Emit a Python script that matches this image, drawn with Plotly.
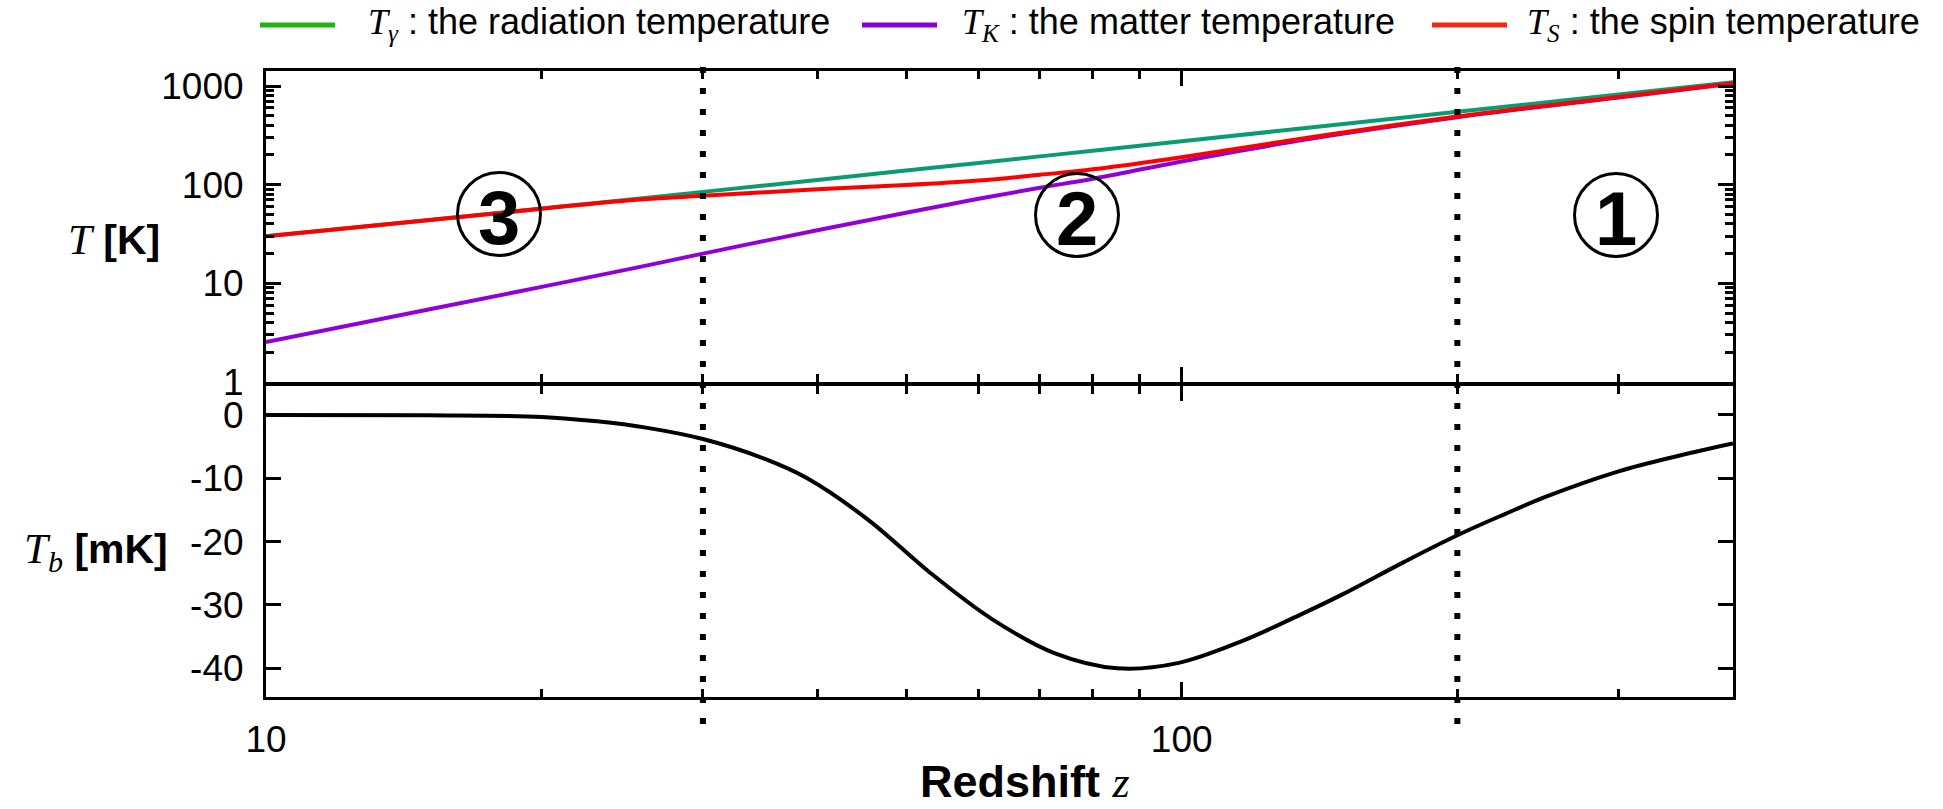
import plotly.graph_objects as go

# ---- data -------------------------------------------------------------
# redshift samples for the temperature curves
z_T = [10, 15, 20, 25, 30, 40, 50, 60, 70, 80, 100, 135, 200, 300, 400]
T_gamma = [30, 43.6, 57.2, 70.9, 84.5, 111.7, 139, 166.2, 193.5, 220.7, 275.2, 370.6, 547.7, 820.2, 1092.7]
T_K = [2.54, 5.4, 9.2, 14, 20, 34.5, 52, 72, 93, 115, 172, 282, 482, 765, 1062]
T_S = [30, 43.6, 57, 69.5, 77, 90, 99, 110, 126, 143, 190, 292, 490, 772, 1065]

# redshift samples for the brightness temperature (mK)
z_b = [10, 15, 20, 23, 26, 30, 35, 39, 45.5, 53, 62, 72.6, 85, 99, 116, 135, 150,
       175, 200, 225, 250, 300, 350, 400]
T_b = [0, -0.05, -0.3, -1.0, -2.0, -3.8, -6.9, -10.0, -16.6, -24.8, -32.2, -37.6, -40.0,
       -39.2, -35.8, -31.5, -28.3, -23.2, -19.0, -15.7, -12.9, -8.9, -6.4, -4.5]

# epoch boundaries
z_bounds = [30, 200]

# tick labels
x_major = [10, 100]
x_major_text = ["10", "100"]
x_minor = [20, 30, 40, 50, 60, 70, 80, 90, 200, 300]
yT_major = [1, 10, 100, 1000]
yT_major_text = ["1", "10", "100", "1000"]
yT_minor = [2, 3, 4, 5, 6, 7, 8, 9, 20, 30, 40, 50, 60, 70, 80, 90,
            200, 300, 400, 500, 600, 700, 800, 900]
yb_major = [0, -10, -20, -30, -40]
yb_major_text = ["0", "-10", "-20", "-30", "-40"]

# ---- layout geometry ---------------------------------------------------
W, H = 1943, 809
ML, MR, MT, MB = 266, 210, 71, 112
PW = W - ML - MR
PH = H - MT - MB


def px_x(px):
    return (px - ML) / PW


def px_y(py):
    return (H - MB - py) / PH


SANS = "Liberation Sans"
SERIF = "Liberation Serif"

fig = go.Figure()

fig.add_trace(go.Scatter(x=z_T, y=T_gamma, mode="lines", xaxis="x", yaxis="y",
                         line=dict(color="#0a9b72", width=4, shape="spline"),
                         name="T_gamma"))
fig.add_trace(go.Scatter(x=z_T, y=T_K, mode="lines", xaxis="x", yaxis="y",
                         line=dict(color="#9100d6", width=4, shape="spline"),
                         name="T_K"))
fig.add_trace(go.Scatter(x=z_T, y=T_S, mode="lines", xaxis="x", yaxis="y",
                         line=dict(color="#ff0000", width=4, shape="spline"),
                         name="T_S"))
fig.add_trace(go.Scatter(x=z_b, y=T_b, mode="lines", xaxis="x2", yaxis="y2",
                         line=dict(color="black", width=4, shape="spline"),
                         name="T_b"))

axis_common = dict(showline=True, linewidth=3, linecolor="black", mirror="ticks",
                   ticks="inside", tickwidth=2.5, tickcolor="black",
                   showgrid=False, zeroline=False,
                   tickfont=dict(family=SANS, size=37, color="black"))

log_x = dict(type="log", range=[1, 2.60206], tickmode="array",
             tickvals=x_major, ticktext=x_major_text, ticklen=15,
             minor=dict(tickmode="array", tickvals=x_minor, ticks="inside",
                        ticklen=8, tickwidth=2.5, tickcolor="black", showgrid=False))

split_top = px_y(382)
split_bot = px_y(386)

fig.update_layout(
    width=W, height=H,
    margin=dict(l=ML, r=MR, t=MT, b=MB),
    paper_bgcolor="white", plot_bgcolor="white",
    showlegend=False,
    xaxis=dict(**axis_common, **log_x, anchor="y", domain=[0, 1],
               showticklabels=False, matches="x2"),
    xaxis2=dict(**axis_common, **log_x, anchor="y2", domain=[0, 1],
                ticklabelstandoff=8),
    yaxis=dict(**axis_common, type="log", range=[0, 3.152], domain=[split_top, 1],
               anchor="x", tickmode="array", tickvals=yT_major, ticktext=yT_major_text,
               ticklen=15, ticklabelstandoff=12,
               minor=dict(tickmode="array", tickvals=yT_minor, ticks="inside",
                          ticklen=8, tickwidth=2.5, tickcolor="black", showgrid=False)),
    yaxis2=dict(**axis_common, range=[-44.55, 4.58], domain=[0, split_bot],
                anchor="x2", tickmode="array", tickvals=yb_major,
                ticktext=yb_major_text, ticklen=15, ticklabelstandoff=12),
)

shapes = []
# dotted boundaries between the epochs
for zb in z_bounds:
    shapes.append(dict(type="line", xref="x2", yref="paper", x0=zb, x1=zb,
                       y0=px_y(724), y1=px_y(67),
                       line=dict(color="black", width=6, dash="6px,15px")))

# circled epoch markers
R = 41.5
epoch_marks = [("3", 499, 214), ("2", 1077, 215), ("1", 1616, 215)]
annotations = []
for label, cx, cy in epoch_marks:
    shapes.append(dict(type="circle", xref="paper", yref="paper",
                       x0=px_x(cx - R), x1=px_x(cx + R),
                       y0=px_y(cy + R), y1=px_y(cy - R),
                       line=dict(color="black", width=3)))
    annotations.append(dict(text=f"<b>{label}</b>", xref="paper", yref="paper",
                            x=px_x(cx), y=px_y(cy + 3), xanchor="center", yanchor="middle",
                            showarrow=False,
                            font=dict(family=SANS, size=76, color="black")))

# legend drawn along the top edge
legend_items = [
    ("#1fb40f", 260, 335, 366, "γ", "the radiation temperature"),
    ("#8a00d0", 862, 937, 960, "K", "the matter temperature"),
    ("#ee2a15", 1432, 1507, 1525, "S", "the spin temperature"),
]
for color, lx0, lx1, tx, sub, desc in legend_items:
    shapes.append(dict(type="line", xref="paper", yref="paper",
                       x0=px_x(lx0), x1=px_x(lx1), y0=px_y(25), y1=px_y(25),
                       line=dict(color=color, width=5)))
    annotations.append(dict(
        text=(f"<span style=\"font-family:'{SERIF}'\"><i>T</i><sub><i>{sub}</i></sub></span>"
              f" : {desc}"),
        xref="paper", yref="paper", x=px_x(tx), y=px_y(24),
        xanchor="left", yanchor="middle", showarrow=False,
        font=dict(family=SANS, size=36, color="black")))

# axis titles
annotations.append(dict(
    text=(f"<span style=\"font-family:'{SERIF}';font-size:43px\"><i>T</i></span>"
          " <b>[K]</b>"),
    xref="paper", yref="paper", x=px_x(162), y=px_y(239),
    xanchor="right", yanchor="middle", showarrow=False,
    font=dict(family=SANS, size=41, color="black")))
annotations.append(dict(
    text=(f"<span style=\"font-family:'{SERIF}';font-size:43px\"><i>T</i><sub><i>b</i></sub></span>"
          " <b>[mK]</b>"),
    xref="paper", yref="paper", x=px_x(170), y=px_y(552),
    xanchor="right", yanchor="middle", showarrow=False,
    font=dict(family=SANS, size=41, color="black")))
annotations.append(dict(
    text=(f"<b>Redshift</b> <span style=\"font-family:'{SERIF}';font-size:44px\"><i>z</i></span>"),
    xref="paper", yref="paper", x=px_x(918), y=px_y(781),
    xanchor="left", yanchor="middle", showarrow=False,
    font=dict(family=SANS, size=45, color="black")))

fig.update_layout(shapes=shapes, annotations=annotations)

fig.write_html("out.html")
